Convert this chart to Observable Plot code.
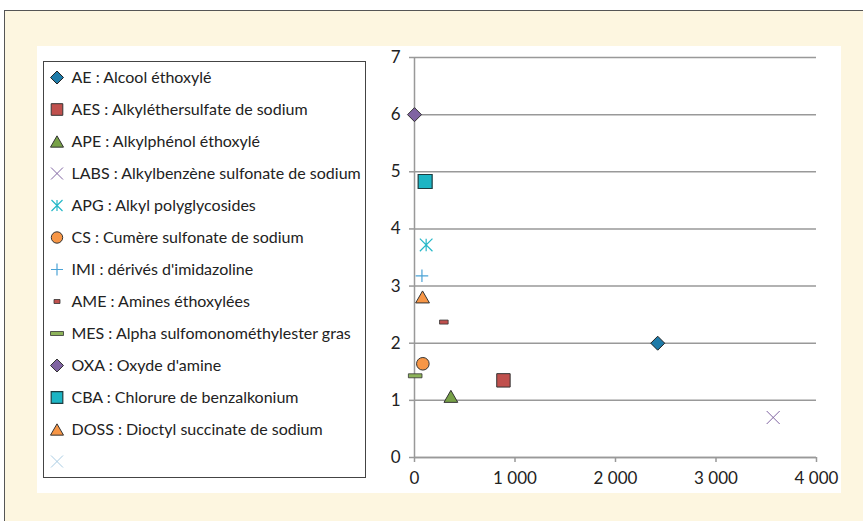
<!DOCTYPE html>
<html><head><meta charset="utf-8">
<script src="https://cdn.jsdelivr.net/npm/d3@7"></script>
<script src="https://cdn.jsdelivr.net/npm/@observablehq/plot@0.6"></script>
<style>
body{margin:0;background:#fff;font-family:Lato,sans-serif;}
#frame{position:absolute;left:4px;top:10px;width:900px;height:560px;background:#FDF6E0;border-left:1.5px solid #555;border-top:1.5px solid #555;}
#panel{position:absolute;left:37px;top:46px;width:804px;height:447px;background:#fff;}
#legend{position:absolute;left:43px;top:61px;width:323px;height:417px;box-sizing:border-box;border:1.5px solid #444;background:#fff;}
#legend svg{display:block;}
#chart{position:absolute;left:370px;top:40px;}
</style></head><body>
<div id="frame"></div>
<div id="panel"></div>
<div id="legend"></div>
<div id="chart"></div>
<script>
// ---- data ----
const codes = ["AE","AES","APE","LABS","APG","CS","IMI","AME","MES","OXA","CBA","DOSS",""];
const names = ["Alcool éthoxylé","Alkyléthersulfate de sodium","Alkylphénol éthoxylé","Alkylbenzène sulfonate de sodium","Alkyl polyglycosides","Cumère sulfonate de sodium","dérivés d'imidazoline","Amines éthoxylées","Alpha sulfomonométhylester gras","Oxyde d'amine","Chlorure de benzalkonium","Dioctyl succinate de sodium",""];
const xValues = [2420, 885, 362, 3569, 116, 83, 74, 292, 7, 0, 106, 80, null];
const yValues = [2.0, 1.35, 1.07, 0.70, 3.72, 1.64, 3.18, 2.37, 1.43, 6.0, 4.83, 2.81, null];
const xTicks = [0, 1000, 2000, 3000, 4000];
const yTicks = [0, 1, 2, 3, 4, 5, 6, 7];

// ---- symbols ----
const sym = f => ({draw(ctx, size){ const r = Math.sqrt(size/Math.PI); f(ctx, r); }});
const diamond = sym((c,r)=>{c.moveTo(0,-r);c.lineTo(r,0);c.lineTo(0,r);c.lineTo(-r,0);c.closePath();});
const square = sym((c,r)=>{c.moveTo(-r,-r);c.lineTo(r,-r);c.lineTo(r,r);c.lineTo(-r,r);c.closePath();});
const triangle = sym((c,r)=>{const h=r*0.87;c.moveTo(0,-h);c.lineTo(r,h);c.lineTo(-r,h);c.closePath();});
const times = sym((c,r)=>{c.moveTo(-r,-r);c.lineTo(r,r);c.moveTo(-r,r);c.lineTo(r,-r);});
const star = sym((c,r)=>{c.moveTo(-r,-r);c.lineTo(r,r);c.moveTo(-r,r);c.lineTo(r,-r);c.moveTo(0,-r);c.lineTo(0,r);});
const circle = sym((c,r)=>{c.moveTo(r,0);c.arc(0,0,r,0,2*Math.PI);c.closePath();});
const plus = sym((c,r)=>{c.moveTo(-r,0);c.lineTo(r,0);c.moveTo(0,-r);c.lineTo(0,r);});
const dash = sym((c,r)=>{c.moveTo(-r,-2);c.lineTo(r,-2);c.lineTo(r,2);c.lineTo(-r,2);c.closePath();});

// style per code (kept separate from data)
const styles = {
  "AE":   {symbol: diamond,  r: 7,   lr: 6.5, fill: "#1F7BA8", stroke: "#222", sw: 1},
  "AES":  {symbol: square,   r: 6.7, lr: 5.8, fill: "#C0504D", stroke: "#333", sw: 1},
  "APE":  {symbol: triangle, r: 6.9, lr: 6.5, fill: "#77A147", stroke: "#333", sw: 1},
  "LABS": {symbol: times,    r: 6.5, lr: 6,   fill: "none",    stroke: "#8064A2", sw: 1},
  "APG":  {symbol: star,     r: 6.3, lr: 5.5, fill: "none",    stroke: "#25B8C8", sw: 1.2},
  "CS":   {symbol: circle,   r: 6.3, lr: 5.7, fill: "#F79646", stroke: "#333", sw: 1},
  "IMI":  {symbol: plus,     r: 6.3, lr: 6,   fill: "none",    stroke: "#4BA3D6", sw: 1.2},
  "AME":  {symbol: dash,     r: 4.3, lr: 3,   fill: "#C0504D", stroke: "#333", sw: 0.8},
  "MES":  {symbol: dash,     r: 6.8, lr: 6.5, fill: "#8DB35A", stroke: "#333", sw: 0.8},
  "OXA":  {symbol: diamond,  r: 7,   lr: 6.5, fill: "#8064A2", stroke: "#333", sw: 1},
  "CBA":  {symbol: square,   r: 7,   lr: 5.8, fill: "#1CB5C4", stroke: "#1d3d40", sw: 1.2},
  "DOSS": {symbol: triangle, r: 6.9, lr: 6.5, fill: "#F79646", stroke: "#333", sw: 1},
  "":     {symbol: times,    r: 6,   lr: 6,   fill: "none",    stroke: "#A9CCE3", sw: 1}
};

const rows = codes.map((c,i)=>({code:c, label: c ? `${c} : ${names[i]}` : "", x:xValues[i], y:yValues[i]}));
const fmt = d => d3.format(",")(d).replace(/,/g, " ");

// ---- chart ----
const pointMarks = rows.filter(d => d.x != null).map(d => {
  const s = styles[d.code];
  return Plot.dot([d], {x:"x", y:"y", symbol:s.symbol, r:s.r, fill:s.fill, stroke:s.stroke, strokeWidth:s.sw});
});

const chart = Plot.plot({
  width: 470, height: 460,
  marginLeft: 44, marginTop: 17, marginRight: 24, marginBottom: 43,
  style: {fontFamily: "Lato, sans-serif", fontSize: "17px", color: "#222", background: "transparent", overflow: "visible"},
  x: {domain: [0, 4000]},
  y: {domain: [0, 7]},
  marks: [
    Plot.gridY(yTicks, {stroke: "#999", strokeOpacity: 1, strokeWidth: 1.5}),
    Plot.ruleX([0], {stroke: "#999", strokeWidth: 1.5}),
    Plot.ruleY([0], {stroke: "#999", strokeWidth: 1.5}),
    Plot.axisX(xTicks, {tickSize: 5, tickPadding: 9, stroke: "#999", strokeWidth: 1.5, fill: "#222", tickFormat: fmt, label: null}),
    Plot.axisY(yTicks, {tickSize: 5, tickPadding: 9, stroke: "#999", strokeWidth: 1.5, fill: "#222", tickFormat: d3.format("d"), label: null}),
    ...pointMarks
  ]
});
document.getElementById("chart").appendChild(chart);

// ---- legend ----
const labels = rows.map(d => d.label);
const legendMarks = rows.map(d => {
  const s = styles[d.code];
  return Plot.dot([d], {y:"label", frameAnchor:"left", dx:12.5, symbol:s.symbol, r:s.lr, fill:s.fill, stroke:s.stroke, strokeWidth:s.sw});
});
const legend = Plot.plot({
  width: 320, height: 414,
  marginTop: 14.5, marginBottom: 14.5, marginLeft: 0, marginRight: 0,
  style: {fontFamily: "Lato, sans-serif", fontSize: "16px", color: "#222", background: "transparent", overflow: "visible"},
  x: {domain: [0, 1], axis: null},
  y: {type: "point", domain: labels, padding: 0, axis: null},
  marks: [
    ...legendMarks,
    Plot.text(rows, {y: "label", text: "label", frameAnchor: "left", dx: 27, textAnchor: "start", fill: "#222"})
  ]
});
document.getElementById("legend").appendChild(legend);
</script>
</body></html>
